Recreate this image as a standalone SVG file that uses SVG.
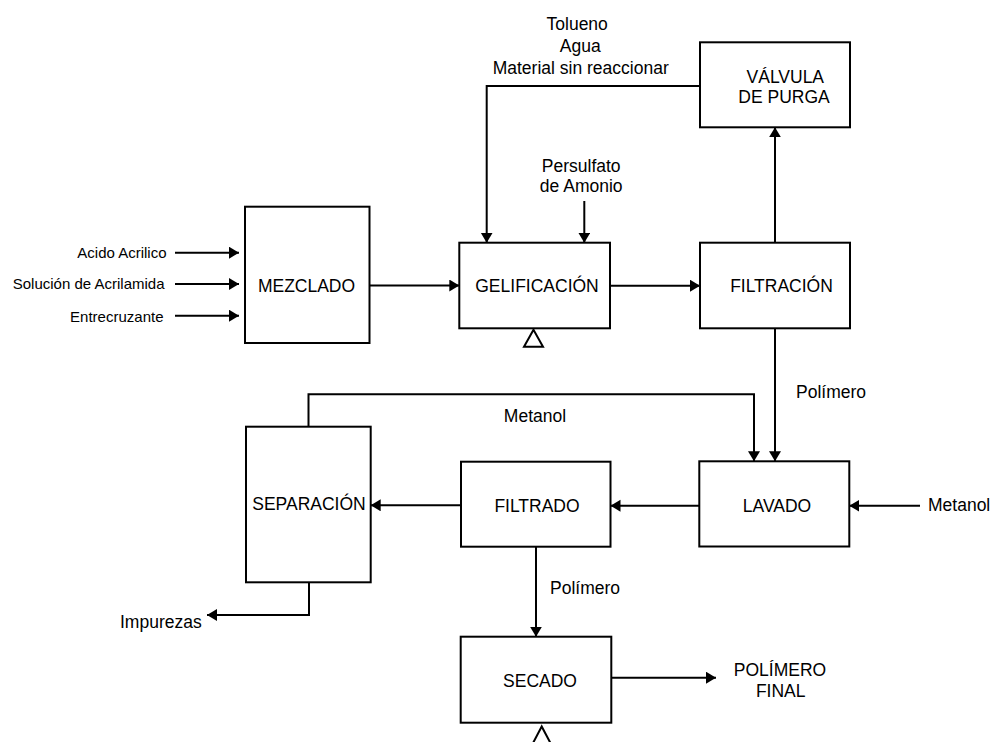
<svg xmlns="http://www.w3.org/2000/svg" width="993" height="742" viewBox="0 0 993 742">
<style>
.box{fill:#fff;stroke:#000;stroke-width:2}
.ln{fill:none;stroke:#000;stroke-width:2}
.arr{marker-end:url(#ah)}
text{font-family:"Liberation Sans",Arial,sans-serif;fill:#000}
.t{font-size:17.5px;text-anchor:middle}
.l{font-size:17.5px}
.s{font-size:15px;text-anchor:end}
.tri{fill:#fff;stroke:#000;stroke-width:2}
</style>
<defs>
<marker id="ah" markerUnits="userSpaceOnUse" markerWidth="11" markerHeight="13" refX="10" refY="6" orient="auto">
<path d="M0,0 L10,6 L0,12 z" fill="#000"/>
</marker>
</defs>
<rect width="993" height="742" fill="#fff"/>
<g id="connectors">
<line class="ln arr" x1="175" y1="252.7" x2="239" y2="252.7"/>
<line class="ln arr" x1="175" y1="284" x2="239" y2="284"/>
<line class="ln arr" x1="175" y1="315.7" x2="239" y2="315.7"/>
<line class="ln arr" x1="369.5" y1="285.5" x2="459.3" y2="285.5"/>
<line class="ln arr" x1="610" y1="285.7" x2="700" y2="285.7"/>
<line class="ln arr" x1="775" y1="242.7" x2="775" y2="127.3"/>
<polyline class="ln arr" points="700,86 486.7,86 486.7,242.7"/>
<line class="ln arr" x1="584.3" y1="201" x2="584.3" y2="242.7"/>
<line class="ln arr" x1="775" y1="328.3" x2="775" y2="461.3"/>
<polyline class="ln arr" points="308.5,426.7 308.5,394.3 754,394.3 754,461.3"/>
<line class="ln arr" x1="920" y1="505.7" x2="849.3" y2="505.7"/>
<line class="ln arr" x1="699.3" y1="505.7" x2="610.5" y2="505.7"/>
<line class="ln arr" x1="461" y1="505.3" x2="370.7" y2="505.3"/>
<polyline class="ln arr" points="309,582.3 309,615 207,615"/>
<line class="ln arr" x1="536" y1="546.7" x2="536" y2="636.7"/>
<line class="ln arr" x1="611.3" y1="677.7" x2="716" y2="677.7"/>
</g>
<g id="mezclado">
<rect class="box" x="245" y="206.7" width="124.5" height="136.3"/>
<text class="t" x="306.5" y="292">MEZCLADO</text>
</g>
<g id="gelificacion">
<rect class="box" x="459.3" y="242.7" width="150.7" height="85.6"/>
<text class="t" x="537" y="292">GELIFICACIÓN</text>
<polygon class="tri" points="533.5,329.8 524,346.7 543,346.7"/>
</g>
<g id="filtracion">
<rect class="box" x="700" y="242.7" width="150" height="85.6"/>
<text class="t" x="781.5" y="292">FILTRACIÓN</text>
</g>
<g id="valvula">
<rect class="box" x="700" y="42.3" width="150" height="85"/>
<text class="t" x="785.3" y="82.5">VÁLVULA</text>
<text class="t" x="784" y="103">DE PURGA</text>
</g>
<g id="lavado">
<rect class="box" x="699.3" y="461.3" width="150" height="85.2"/>
<text class="t" x="777" y="511.7">LAVADO</text>
</g>
<g id="filtrado">
<rect class="box" x="461" y="461.7" width="149.5" height="85"/>
<text class="t" x="537" y="511.7">FILTRADO</text>
</g>
<g id="separacion">
<rect class="box" x="246" y="426.7" width="124.7" height="155.6"/>
<text class="t" x="309" y="509.5">SEPARACIÓN</text>
</g>
<g id="secado">
<rect class="box" x="460.7" y="636.7" width="150.6" height="86"/>
<text class="t" x="540" y="686.7">SECADO</text>
<polygon class="tri" points="541.7,726.5 532,745 551.5,745"/>
</g>
<g id="labels">
<text class="s" x="166.5" y="258.3">Acido Acrilico</text>
<text class="s" x="164.5" y="289.3">Solución de Acrilamida</text>
<text class="s" x="163.5" y="321.5">Entrecruzante</text>
<text class="t" x="577.2" y="30">Tolueno</text>
<text class="t" x="580.3" y="51.5">Agua</text>
<text class="t" x="580.7" y="73.5">Material sin reaccionar</text>
<text class="t" x="581.2" y="171.7">Persulfato</text>
<text class="t" x="581.2" y="192.3">de Amonio</text>
<text class="l" x="796" y="398">Polímero</text>
<text class="t" x="535" y="421.7">Metanol</text>
<text class="l" x="928" y="510.7">Metanol</text>
<text class="l" x="120" y="628">Impurezas</text>
<text class="l" x="550" y="594">Polímero</text>
<text class="t" x="780" y="675.7">POLÍMERO</text>
<text class="t" x="780.7" y="697.3">FINAL</text>
</g>
</svg>
